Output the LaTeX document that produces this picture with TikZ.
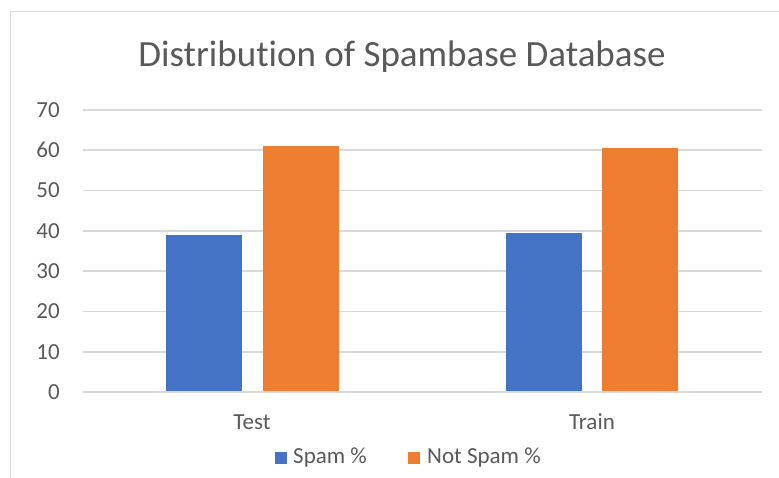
\documentclass[tikz,border=0pt]{standalone}
\usepackage{fontspec}
\setmainfont[Ligatures={NoCommon}]{Carlito}
\definecolor{spamblue}{HTML}{4472C4}
\definecolor{notorange}{HTML}{ED7D31}
\definecolor{gridgray}{HTML}{D9D9D9}
\definecolor{txtgray}{HTML}{595959}
\begin{document}
\begin{tikzpicture}[x=1pt,y=-1pt,
  gridline/.style={draw=gridgray,line width=1.6pt},
  ticklabel/.style={text=txtgray,font=\fontsize{23}{23}\selectfont,anchor=east,inner sep=0pt},
  catlabel/.style={text=txtgray,font=\fontsize{23}{23}\selectfont,anchor=center,inner sep=0pt},
  legtext/.style={text=txtgray,font=\fontsize{23}{23}\selectfont,anchor=west,inner sep=0pt},
  spambar/.style={fill=spamblue},
  notbar/.style={fill=notorange}]
\useasboundingbox (0,0) rectangle (779,478);
\fill[white] (0,0) rectangle (779,478);
% chart frame
\draw[draw=gridgray,line width=1.5pt] (10.5,478) -- (10.5,11.5) -- (779,11.5);
% title
\node[text=txtgray,font=\fontsize{37}{37}\selectfont,inner sep=0pt] (title) at (402,57) {Distribut\kern0pt ion of Spambase Database};
% gridlines and tick labels
\foreach \v in {0,10,...,70}{
  \pgfmathsetmacro{\yy}{392-\v*4.03}
  \draw[gridline] (83,\yy) -- (762,\yy);
  \node[ticklabel] (tick\v) at (60,\yy) {\v};
}
% bars
\fill[spambar] (166,392) rectangle (242,{392-39.0*4.03});
\fill[notbar]  (263,392) rectangle (339,{392-61.0*4.03});
\fill[spambar] (506,392) rectangle (582,{392-39.4*4.03});
\fill[notbar]  (602,392) rectangle (678,{392-60.6*4.03});
\draw[gridline] (83,392) -- (762,392);
% category labels
\node[catlabel] (test) at (252,422) {Test};
\node[catlabel] (train) at (592,422) {Train};
% legend
\fill[spambar] (275,452) rectangle (287,464);
\node[legtext] (leg1) at (293,458) {Spam \%};
\fill[notbar] (408,452) rectangle (420,464);
\node[legtext] (leg2) at (427,458) {Not Spam \%};
\end{tikzpicture}
\end{document}
